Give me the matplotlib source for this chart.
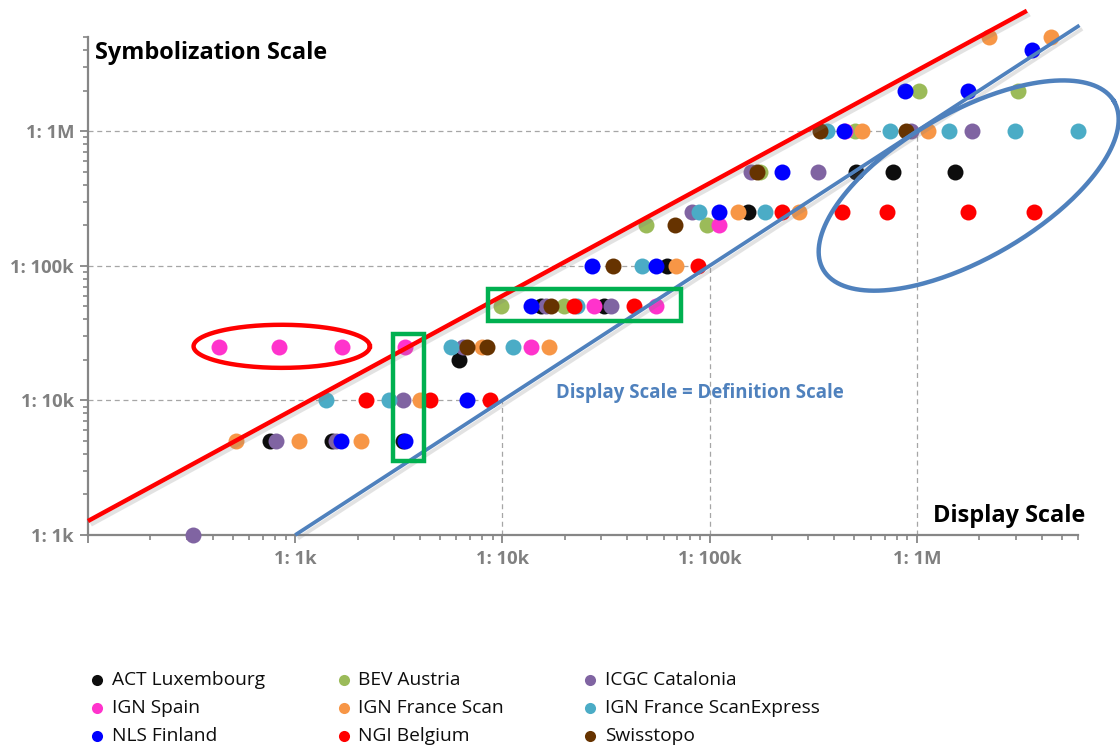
import numpy as np
import matplotlib
matplotlib.use('Agg')
import matplotlib.pyplot as plt
from matplotlib.lines import Line2D
from matplotlib.patches import Rectangle
from matplotlib.ticker import FixedLocator, LogLocator, NullFormatter
import matplotlib.patheffects as pe

plt.rcParams['font.family'] = ['Open Sans', 'DejaVu Sans']

# ---------------- data ----------------
series_names = ['ACT Luxembourg', 'BEV Austria', 'ICGC Catalonia',
                'IGN Spain', 'IGN France Scan', 'IGN France ScanExpress',
                'NLS Finland', 'NGI Belgium', 'Swisstopo']
series_colors = ['#0d0d0d', '#9bbb59', '#8064a2',
                 '#ff33cc', '#f79646', '#4bacc6',
                 '#0000ff', '#ff0000', '#663300']

act_display = [760, 1500, 3300, 6200, 15300, 30900, 62600, 153000, 511000, 764000, 1530000]
act_symb    = [5000, 5000, 5000, 20000, 50000, 50000, 100000, 250000, 500000, 500000, 500000]

bev_display = [9800, 19800, 49400, 97700, 175000, 506000, 1020000, 3090000]
bev_symb    = [50000, 50000, 200000, 200000, 500000, 1000000, 2000000, 2000000]

icgc_display = [320, 809, 1580, 3300, 6460, 16200, 33400, 82600, 158000, 334000, 936000, 1850000]
icgc_symb    = [1000, 5000, 5000, 10000, 25000, 50000, 50000, 250000, 500000, 500000, 1000000, 1000000]

ignes_display = [428, 836, 1690, 3380, 13700, 27700, 55300, 110600, 452000]
ignes_symb    = [25000, 25000, 25000, 25000, 25000, 50000, 50000, 200000, 1000000]

ignfr_display = [518, 1045, 2070, 4000, 8000, 16700, 69200, 136800, 270600, 547000, 1130000, 2240000, 4430000]
ignfr_symb    = [5000, 5000, 5000, 10000, 25000, 25000, 100000, 250000, 250000, 1000000, 1000000, 5000000, 5000000]

ignfrx_display = [1413, 2827, 5650, 11300, 23000, 47300, 89400, 184900, 370000, 740000, 1430000, 2990000, 6000000]
ignfrx_symb    = [10000, 10000, 25000, 25000, 50000, 100000, 250000, 250000, 1000000, 1000000, 1000000, 1000000, 1000000]

nls_display = [1670, 3380, 6760, 13800, 27000, 55300, 110600, 223700, 443000, 875000, 1770000, 3610000]
nls_symb    = [5000, 5000, 10000, 50000, 100000, 100000, 250000, 500000, 1000000, 2000000, 2000000, 4000000]

ngi_display = [2188, 4470, 8740, 22100, 43200, 87500, 223700, 437500, 722000, 1770000, 3660000]
ngi_symb    = [10000, 10000, 10000, 50000, 50000, 100000, 250000, 250000, 250000, 250000, 250000]

swiss_display = [6760, 8450, 17100, 34200, 68400, 170000, 342000, 885000]
swiss_symb    = [25000, 25000, 50000, 100000, 200000, 500000, 1000000, 1000000]

series_display = [act_display, bev_display, icgc_display, ignes_display, ignfr_display,
                  ignfrx_display, nls_display, ngi_display, swiss_display]
series_symb = [act_symb, bev_symb, icgc_symb, ignes_symb, ignfr_symb,
               ignfrx_symb, nls_symb, ngi_symb, swiss_symb]

tick_values = [1e3, 1e4, 1e5, 1e6]
tick_labels = ['1: 1k', '1: 10k', '1: 100k', '1: 1M']
grid_scales = [1e4, 1e5, 1e6]

x_limits = (100, 6e6)
y_limits = (1e3, 5e6)

# annotation shapes
red_line_x = [100, 3.40e6]
red_line_y = [1270, 7.83e6]
equal_line = [1e3, 6.1e6]

red_ellipse_center = (861, 25200)
red_ellipse_half_decades = (0.4255, 0.16)

blue_ellipse_center = (1.78e6, 3.94e5)
blue_ellipse_axes_px = (168, 73)
blue_ellipse_angle = 30

green_rects = [((2950, 3550), (4170, 31200)),
               ((8510, 39000), (72400, 67400))]

# ---------------- figure ----------------
W, H = 1120, 748
fig = plt.figure(figsize=(W / 100, H / 100), dpi=100)
ax = fig.add_axes([88 / W, 1 - 535 / H, (1078 - 88) / W, (535 - 37) / H])
ax.set_xscale('log')
ax.set_yscale('log')
ax.set_xlim(*x_limits)
ax.set_ylim(*y_limits)

axis_gray = '#868686'
for s in ['top', 'right']:
    ax.spines[s].set_visible(False)
for s in ['left', 'bottom']:
    ax.spines[s].set_color(axis_gray)
    ax.spines[s].set_linewidth(1.6)

ax.xaxis.set_major_locator(FixedLocator([x_limits[0]] + tick_values))
ax.set_xticklabels([''] + tick_labels)
ax.yaxis.set_major_locator(FixedLocator(tick_values))
ax.set_yticklabels(tick_labels)
ax.xaxis.set_minor_locator(LogLocator(base=10, subs=np.arange(2, 10)))
ax.yaxis.set_minor_locator(LogLocator(base=10, subs=np.arange(2, 10)))
ax.xaxis.set_minor_formatter(NullFormatter())
ax.yaxis.set_minor_formatter(NullFormatter())
ax.tick_params(which='major', direction='out', length=6, width=1.3, color=axis_gray,
               labelcolor='#808080', labelsize=13.3)
ax.tick_params(axis='x', which='major', pad=5)
ax.tick_params(axis='y', which='major', pad=4)
ax.tick_params(which='minor', direction='out', length=3.5, width=1.2, color=axis_gray)
for lab in ax.get_xticklabels() + ax.get_yticklabels():
    lab.set_fontweight('bold')

# dashed L-shaped guide lines
for g in grid_scales:
    ax.plot([x_limits[0], g], [g, g], ls=(0, (4, 3)), color='#a6a6a6', lw=0.9, zorder=1)
    ax.plot([g, g], [y_limits[0], g], ls=(0, (4, 3)), color='#a6a6a6', lw=0.9, zorder=1)

shadow = [pe.SimpleLineShadow(offset=(2, -2.5), shadow_color='#7f7f7f', alpha=0.22),
          pe.Normal()]

# data points
for name, col, xs, ys in zip(series_names, series_colors, series_display, series_symb):
    ax.plot(xs, ys, ls='none', marker='o', markersize=11.5, markeredgewidth=0,
            color=col, zorder=3, clip_on=False, label=name)

# lines
ax.plot(red_line_x, red_line_y, color='#ff0000', lw=3.2, zorder=4, clip_on=False,
        solid_capstyle='butt', path_effects=shadow)
ax.plot(equal_line, equal_line, color='#4f81bd', lw=2.7, zorder=4, clip_on=False,
        solid_capstyle='butt', path_effects=shadow)

# red ellipse (axis aligned in log space)
t = np.linspace(0, 2 * np.pi, 300)
cu, cv = np.log10(red_ellipse_center[0]), np.log10(red_ellipse_center[1])
ax.plot(10 ** (cu + red_ellipse_half_decades[0] * np.cos(t)),
        10 ** (cv + red_ellipse_half_decades[1] * np.sin(t)),
        color='#ff0000', lw=3.2, zorder=5, clip_on=False)

# green rectangles
for (x0, y0), (x1, y1) in green_rects:
    ax.add_patch(Rectangle((x0, y0), x1 - x0, y1 - y0, fill=False,
                           edgecolor='#00b050', lw=3.2, zorder=5, clip_on=False))

# blue rotated ellipse (defined in screen space around a data centre)
c_disp = ax.transData.transform(blue_ellipse_center)
a, b = blue_ellipse_axes_px
th = np.deg2rad(blue_ellipse_angle)
ex = c_disp[0] + a * np.cos(t) * np.cos(th) - b * np.sin(t) * np.sin(th)
ey = c_disp[1] + a * np.cos(t) * np.sin(th) + b * np.sin(t) * np.cos(th)
edata = ax.transData.inverted().transform(np.column_stack([ex, ey]))
ax.plot(edata[:, 0], edata[:, 1], color='#4f81bd', lw=3.2, zorder=5, clip_on=False)

# texts
fig.text(95 / W, 1 - 59 / H, 'Symbolization Scale', fontsize=16.9, fontweight='bold',
         color='black', ha='left', va='baseline')
fig.text(1085 / W, 1 - 522 / H, 'Display Scale', fontsize=16.9, fontweight='bold',
         color='black', ha='right', va='baseline')
fig.text(556 / W, 1 - 398 / H, 'Display Scale = Definition Scale', fontsize=13.4,
         fontweight='bold', color='#4f81bd', ha='left', va='baseline')

# legend (3 columns, row-major)
leg_x0, leg_dx = 97, 246.5
leg_y0, leg_dy = 680, 28
for i, (name, col) in enumerate(zip(series_names, series_colors)):
    r, c = divmod(i, 3)
    mx = leg_x0 + c * leg_dx
    my = leg_y0 + r * leg_dy
    fig.add_artist(Line2D([mx / W], [1 - my / H], marker='o', markersize=8,
                          markeredgewidth=0, color=col, transform=fig.transFigure))
    fig.text((mx + 15) / W, 1 - my / H, name, fontsize=13.8, color='#0d0d0d',
             ha='left', va='center')

fig.savefig('out.png', dpi=100)
